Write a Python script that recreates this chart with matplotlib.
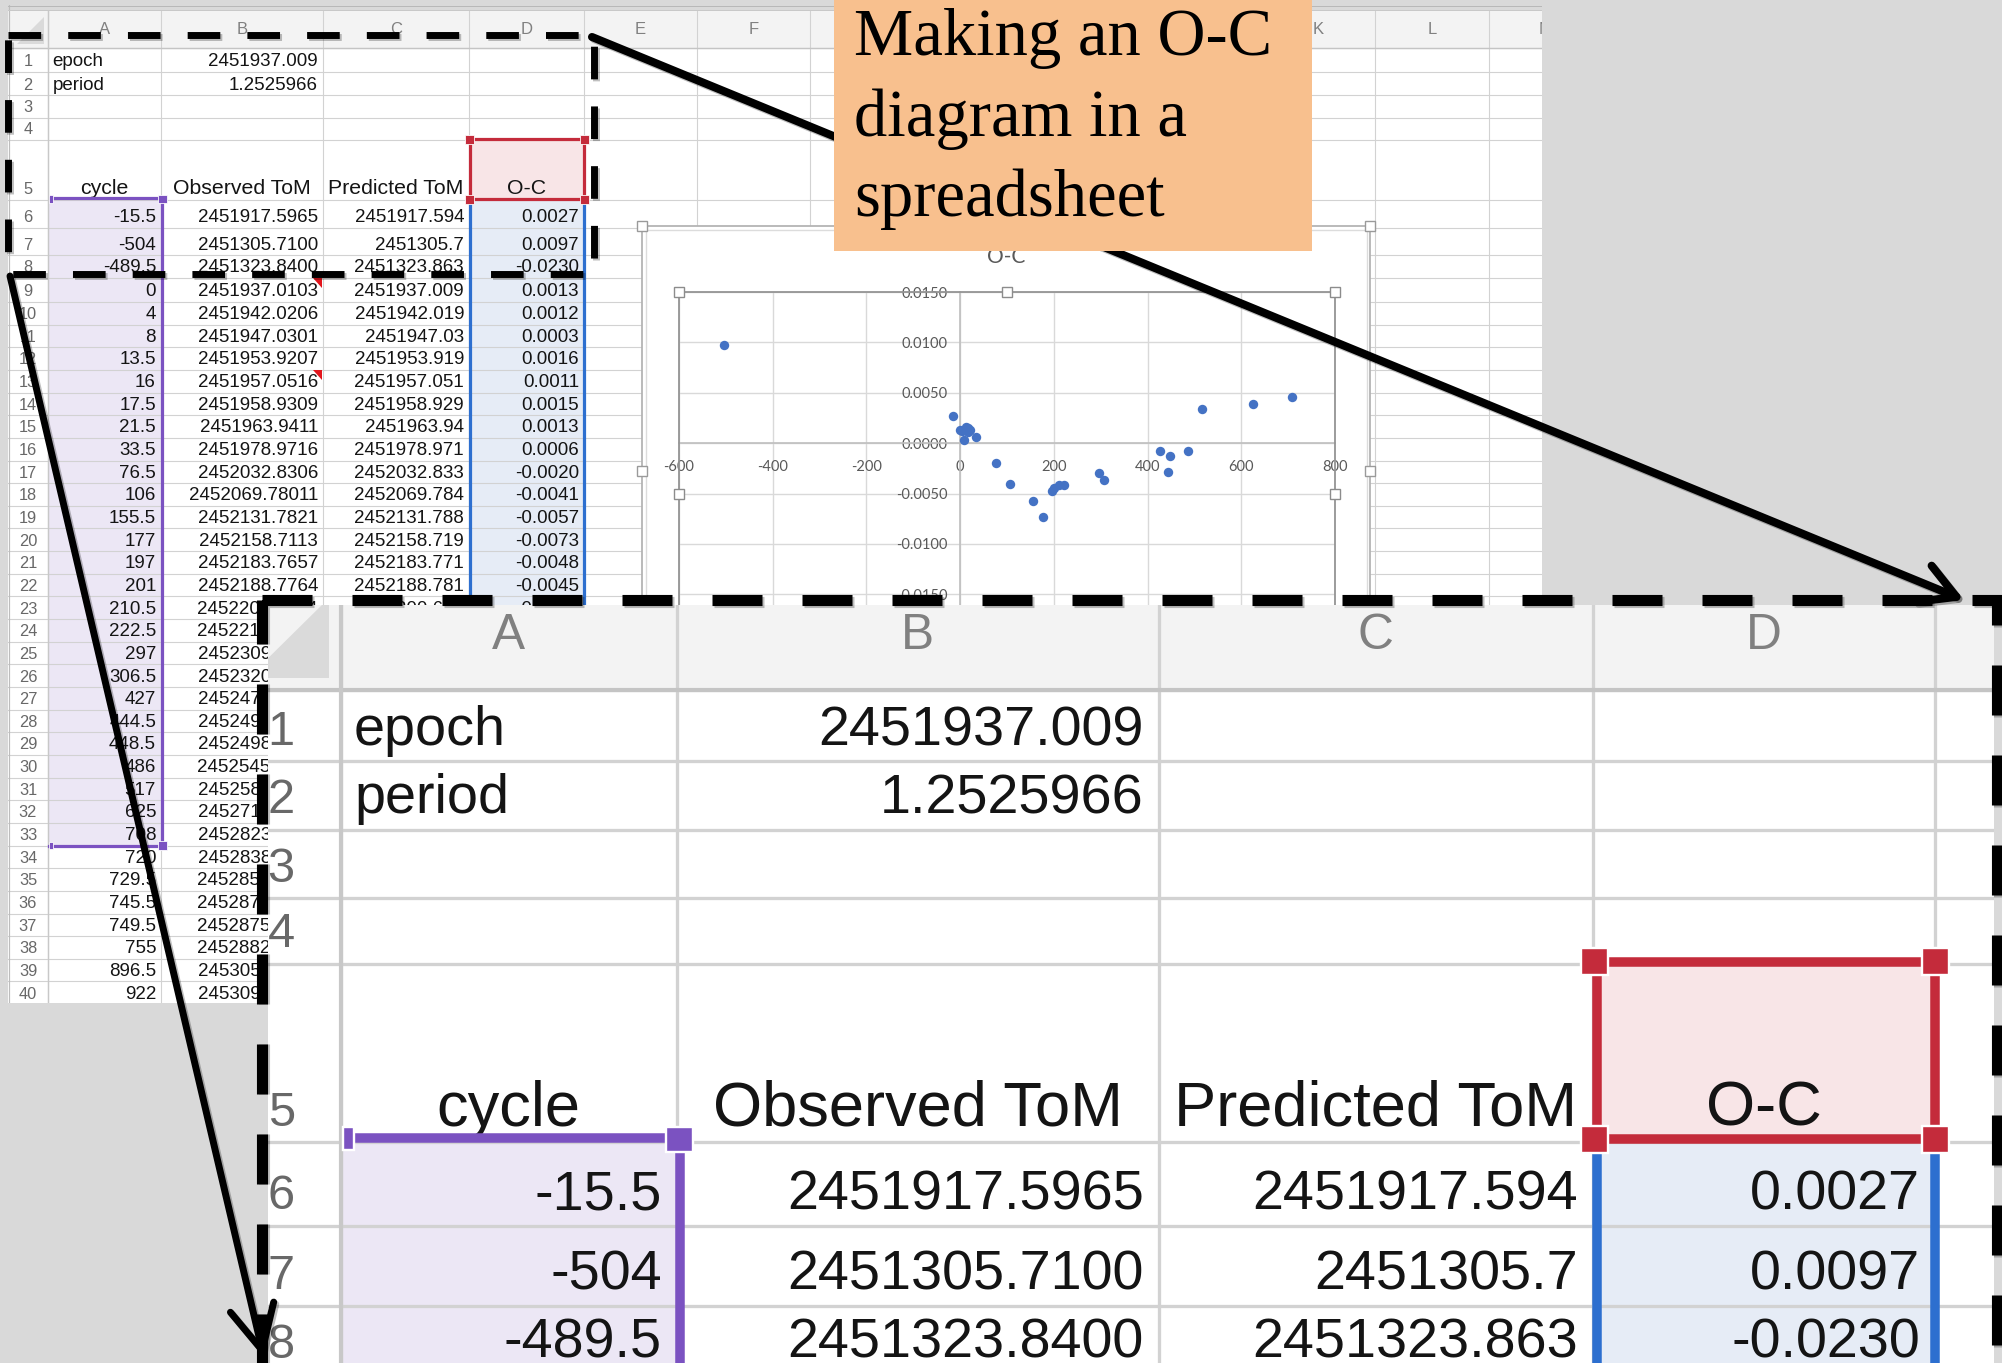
import matplotlib.pyplot as plt
import matplotlib.patheffects as pe
from matplotlib.patches import Rectangle, Polygon, FancyArrowPatch

W, H = 2002, 1363

# ---- spreadsheet contents ----
epoch_text = '2451937.009'
period_text = '1.2525966'
headers = ['cycle', 'Observed ToM', 'Predicted ToM', 'O-C']

cycle = [-15.5, -504, -489.5, 0, 4, 8, 13.5, 16, 17.5, 21.5, 33.5, 76.5, 106,
         155.5, 177, 197, 201, 210.5, 222.5, 297, 306.5, 427, 444.5, 448.5,
         486, 517, 625, 708, 720, 729.5, 745.5, 749.5, 755, 896.5, 922]
observed = ['2451917.5965', '2451305.7100', '2451323.8400', '2451937.0103',
            '2451942.0206', '2451947.0301', '2451953.9207', '2451957.0516',
            '2451958.9309', '2451963.9411', '2451978.9716', '2452032.8306',
            '2452069.78011', '2452131.7821', '2452158.7113', '2452183.7657',
            '2452188.7764', '2452200.6764', '2452215.6700', '2452309.0251',
            '2452320.9184', '2452471.8714', '2452493.7859', '2452498.8055',
            '2452545.7708', '2452584.6346', '2452719.8758', '2452823.8519',
            '2452838.8793', '2452850.7787', '2452870.8255', '2452875.8295',
            '2452882.7108', '2453059.9584', '2453091.8913']
predicted = [2451917.594, 2451305.7, 2451323.863, 2451937.009, 2451942.019,
             2451947.03, 2451953.919, 2451957.051, 2451958.929, 2451963.94,
             2451978.971, 2452032.833, 2452069.784, 2452131.788, 2452158.719,
             2452183.771, 2452188.781, 2452200.681]
# rows 6..33 are the ones selected for the chart
o_minus_c = [0.0027, 0.0097, -0.0230, 0.0013, 0.0012, 0.0003, 0.0016, 0.0011,
             0.0015, 0.0013, 0.0006, -0.0020, -0.0041, -0.0057, -0.0073,
             -0.0048, -0.0045, -0.0042, -0.0042, -0.0030, -0.0037, -0.0008,
             -0.0029, -0.0013, -0.0008, 0.0034, 0.0039, 0.0046]

x_ticks = [-600, -400, -200, 0, 200, 400, 600, 800]
y_ticks = [0.015, 0.010, 0.005, 0.0, -0.005, -0.010, -0.015, -0.020, -0.025]

col_letters = list('ABCDEFGHIJKLM')
col_edges = [8, 48, 161, 323, 469, 584, 697, 810, 923, 1036, 1149, 1262, 1375, 1489, 1603]
row_edges = [48, 72, 95, 118, 140, 200, 228, 255, 278, 302] + [302 + 22.65 * k for k in range(1, 32)]

SANS = ['Liberation Sans', 'DejaVu Sans']
CHART_FONT = ['Lato', 'DejaVu Sans']
SERIF = ['Liberation Serif', 'DejaVu Serif']


def pt(v, s=1.0):
    # pixels -> points at 100 dpi
    return v * 0.72 * s


def fig_rect(x0, y0, x1, y1):
    return [x0 / W, 1 - y1 / H, (x1 - x0) / W, (y1 - y0) / H]


def draw_sheet(ax, s):
    ax.add_patch(Rectangle((8, 11), 1600, 1000, fc='white', ec='none', zorder=0))
    ax.add_patch(Rectangle((8, 11), 1600, 37, fc='#f3f3f3', ec='none', zorder=0.5))
    ax.add_patch(Polygon([(44, 17), (44, 44), (17, 44)], closed=True, fc='#dadada',
                         ec='none', zorder=0.6))
    top6, bot33 = row_edges[5], row_edges[33]
    ax.add_patch(Rectangle((48, top6), 113, bot33 - top6, fc='#ece7f5', ec='none', zorder=1))
    ax.add_patch(Rectangle((469, top6), 115, bot33 - top6, fc='#e6ecf6', ec='none', zorder=1))
    ax.add_patch(Rectangle((469, row_edges[4]), 115, top6 - row_edges[4], fc='#f8e5e7',
                           ec='none', zorder=1))

    glw = pt(1.1, s)
    for y in row_edges:
        ax.plot([8, 1610], [y, y], color='#d2d2d2', lw=glw, zorder=2)
    for x in col_edges[1:]:
        ax.plot([x, x], [11, row_edges[-1]], color='#d2d2d2', lw=glw, zorder=2)
    ax.plot([8, 1610], [48, 48], color='#c4c4c4', lw=pt(1.4, s), zorder=2.1)
    ax.plot([48, 48], [11, row_edges[-1]], color='#c8c8c8', lw=pt(1.4, s), zorder=2.1)
    ax.plot([8.5, 8.5], [5, row_edges[-1]], color='#bdbdbd', lw=pt(1.2, s), zorder=2.1)
    ax.plot([8, 1610], [6.5, 6.5], color='#b8b8b8', lw=pt(1, s), zorder=2.1)
    ax.plot([8, 1610], [10, 10], color='#c8c8c8', lw=pt(1, s), zorder=2.1)

    def cell(col, row, txt, align='right', size=13.5):
        x0, x1 = col_edges[col + 1], col_edges[col + 2]
        yb = row_edges[row] - 5.5
        if align == 'right':
            x, ha = x1 - 5, 'right'
        elif align == 'left':
            x, ha = x0 + 4.5, 'left'
        else:
            x, ha = (x0 + x1) / 2, 'center'
        ax.text(x, yb, txt, ha=ha, va='baseline', fontsize=size * s, color='#141414',
                family=SANS, clip_on=True, zorder=4)

    for i, lab in enumerate(col_letters):
        xc = (col_edges[i + 1] + col_edges[i + 2]) / 2
        ax.text(xc, 30, lab, ha='center', va='center', fontsize=12 * s, color='#808080',
                family=SANS, clip_on=True, zorder=4)
    for r in range(1, len(row_edges)):
        ax.text(28, row_edges[r] - 5.5, str(r), ha='center', va='baseline',
                fontsize=11.8 * s, color='#686868', family=SANS, clip_on=True, zorder=4)

    cell(0, 1, 'epoch', 'left')
    cell(1, 1, epoch_text)
    cell(0, 2, 'period', 'left')
    cell(1, 2, period_text)
    for c, h in enumerate(headers):
        cell(c, 5, h, 'center', size=15.3)
    for k in range(len(cycle)):
        r = 6 + k
        cell(0, r, f'{cycle[k]:g}')
        cell(1, r, observed[k])
        if k < len(predicted):
            cell(2, r, f'{predicted[k]:.10g}')
        if k < len(o_minus_c):
            cell(3, r, f'{o_minus_c[k]:.4f}')

    # comment markers
    for r in (9, 13):
        yt = row_edges[r - 1]
        ax.add_patch(Polygon([(312.5, yt + 0.5), (322, yt + 0.5), (322, yt + 10)],
                             closed=True, fc='#e3151c', ec='none', zorder=4.5))

    # range-finder borders
    slw = pt(3.2, s)
    purple, blue, red = '#7b52c1', '#2d6fcf', '#c42b3b'
    ax.plot([49, 162], [198.5, 198.5], color=purple, lw=slw, zorder=5, solid_capstyle='butt')
    ax.plot([162, 162], [198.5, bot33], color=purple, lw=slw, zorder=5)
    ax.plot([49, 162], [bot33, bot33], color=purple, lw=slw, zorder=5)
    for (x0, y0, w, h) in [(48.9, 194.9, 3.6, 7.6), (48.9, bot33 - 3.8, 3.6, 7.6),
                           (157.5, 194.8, 9, 8.6), (157.5, bot33 - 4.3, 9, 8.6)]:
        ax.add_patch(Rectangle((x0, y0), w, h, fc=purple, ec='white', lw=pt(0.8, s), zorder=5.5))

    ax.plot([470.3, 470.3], [205, bot33], color=blue, lw=slw, zorder=5)
    ax.plot([583.8, 583.8], [205, bot33], color=blue, lw=slw, zorder=5)
    ax.plot([470.3, 583.8], [bot33, bot33], color=blue, lw=slw, zorder=5)

    ax.add_patch(Rectangle((470.3, 139.3), 113.5, 59.7, fill=False, ec=red, lw=slw, zorder=5.2))
    for cx in (469.5, 584):
        for cy in (139.3, 199):
            ax.add_patch(Rectangle((cx - 4.5, cy - 4.5), 9, 9, fc=red, ec='white',
                                   lw=pt(0.8, s), zorder=5.5))


fig = plt.figure(figsize=(W / 100, H / 100), dpi=100, facecolor='#d9d9d9')

# ---- main sheet ----
sheet = fig.add_axes(fig_rect(8, 5, 1542, 1003), zorder=0)
sheet.set_xlim(8, 1542)
sheet.set_ylim(1003, 5)
sheet.axis('off')
draw_sheet(sheet, 1.0)

# embedded chart frame
sheet.add_patch(Rectangle((642, 226), 728, 490, fc='white', ec='#b4b4b4', lw=1.3, zorder=6))
sheet.add_patch(Rectangle((645.5, 229.5), 721, 483, fill=False, ec='#dcdcdc', lw=1, zorder=6.1))
for hx, hy in [(642, 226), (1006, 226), (1370, 226), (642, 471), (1370, 471)]:
    sheet.plot(hx, hy, 's', ms=7, mfc='white', mec='#9a9a9a', mew=1, zorder=6.5, clip_on=False)
sheet.text(1006, 257, 'O-C', ha='center', va='center', fontsize=15, color='#595959',
           family=CHART_FONT, zorder=7)

# ---- O-C scatter chart ----
chart = fig.add_axes(fig_rect(679, 292, 1335, 695), zorder=1)
chart.set_facecolor('white')
chart.set_xlim(-600, 800)
chart.set_ylim(-0.025, 0.015)
chart.set_axisbelow(True)
chart.grid(True, color='#d9d9d9', lw=1)
for side in ('top', 'right'):
    chart.spines[side].set_visible(False)
for side in ('left', 'bottom'):
    chart.spines[side].set_position('zero')
    chart.spines[side].set_color('#bfbfbf')
    chart.spines[side].set_linewidth(1.2)
chart.set_xticks(x_ticks, labels=[f'{t:d}' for t in x_ticks])
chart.set_yticks(y_ticks, labels=[f'{t + 0.0:.4f}' for t in y_ticks])
chart.tick_params(axis='x', length=0, pad=12, labelsize=10.5, labelcolor='#595959')
chart.tick_params(axis='y', length=0, pad=9, labelsize=10.5, labelcolor='#595959')
for lab in chart.get_xticklabels() + chart.get_yticklabels():
    lab.set_family(CHART_FONT)
chart.scatter(cycle[:len(o_minus_c)], o_minus_c, s=46, color='#4472c4', zorder=3,
              linewidths=0)
chart.plot([0, 0, 1, 1], [0, 1, 1, 0], transform=chart.transAxes, color='#949494',
           lw=1.3, clip_on=False, zorder=4)
for hx, hy in [(0, 1), (0.5, 1), (1, 1), (0, 0.5), (1, 0.5)]:
    chart.plot(hx, hy, 's', ms=7, mfc='white', mec='#8c8c8c', mew=1,
               transform=chart.transAxes, clip_on=False, zorder=5)

# ---- zoomed inset of the sheet ----
k = 2.975
inset = fig.add_axes(fig_rect(268, 605, 1994, 1363), zorder=2)
inset.set_xlim(48 + (268 - 340.6) / k, 48 + (1994 - 340.6) / k)
inset.set_ylim(48 + (1363 - 690) / k, 48 + (605 - 690) / k)
inset.axis('off')
draw_sheet(inset, k)

# ---- annotation overlay ----
over = fig.add_axes(fig_rect(0, 0, W, H), zorder=3)
over.set_xlim(0, W)
over.set_ylim(H, 0)
over.axis('off')
over.patch.set_alpha(0)

shadow = [pe.SimpleLineShadow(offset=(1.5, -1.5), shadow_color='black', alpha=0.25), pe.Normal()]

over.add_patch(Rectangle((8, 35), 586, 239, fill=False, ec='black', lw=5,
                         ls=(0, (4.7, 3.9)), path_effects=shadow, zorder=2))
over.add_patch(Rectangle((262, 600), 1735, 900, fill=False, ec='black', lw=8,
                         ls=(0, (4.5, 3.6)), path_effects=shadow, zorder=2))

over.add_patch(FancyArrowPatch((592, 37), (1964, 600),
                               arrowstyle='->,head_length=25,head_width=14',
                               mutation_scale=1, lw=5.8, color='black',
                               capstyle='round', joinstyle='round',
                               shrinkA=0, shrinkB=0, path_effects=shadow, zorder=3))
over.add_patch(FancyArrowPatch((10, 276), (264, 1358),
                               arrowstyle='->,head_length=32,head_width=16',
                               mutation_scale=1, lw=5, color='black',
                               capstyle='round', joinstyle='round',
                               shrinkA=0, shrinkB=0, path_effects=shadow, zorder=3))

over.add_patch(Rectangle((834, -5), 478, 256, fc='#f8c08e', ec='none', zorder=10))
for line, yb in zip(['Making an O-C', 'diagram in a', 'spreadsheet'], [55, 136, 216]):
    over.text(854, yb, line, ha='left', va='baseline', fontsize=48, family=SERIF,
              color='black', zorder=11)

fig.savefig('out.png', dpi=100, facecolor=fig.get_facecolor())
